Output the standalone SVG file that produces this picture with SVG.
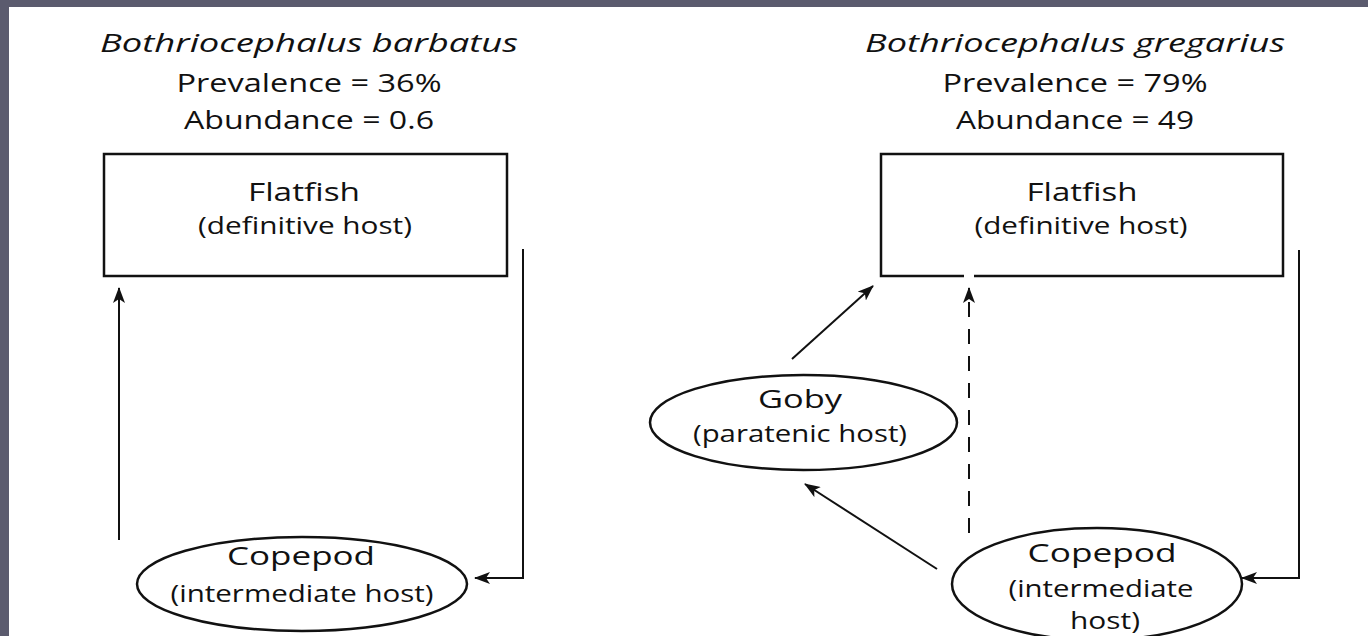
<svg xmlns="http://www.w3.org/2000/svg" width="1368" height="636" viewBox="0 0 1368 636">
<style>
.t{font-family:"Open Sans","Noto Sans",sans-serif;fill:#111;text-anchor:middle}
.it{font-style:italic;font-size:26px}
.h{font-size:25px}
.m{font-size:26px}
.s{font-size:23px}
.n{fill:none;stroke:#111;stroke-width:2.5}
.c{fill:none;stroke:#111;stroke-width:2}
</style>
<defs>
<marker id="ah" viewBox="0 0 16 12" refX="15" refY="6" markerWidth="16" markerHeight="12" markerUnits="userSpaceOnUse" orient="auto">
<path d="M0,0 L16,6 L0,12 L4,6 Z" fill="#111"/>
</marker>
</defs>
<rect x="0" y="0" width="1368" height="636" fill="#5b5b6e"/>
<rect x="9" y="7" width="1359" height="629" fill="#fff"/>
<g id="titles">
<text class="t it" x="309" y="52" textLength="418" lengthAdjust="spacingAndGlyphs">Bothriocephalus barbatus</text>
<text class="t m" x="309" y="92" textLength="265" lengthAdjust="spacingAndGlyphs">Prevalence = 36%</text>
<text class="t m" x="309" y="129" textLength="250" lengthAdjust="spacingAndGlyphs">Abundance = 0.6</text>
<text class="t it" x="1075" y="52" textLength="420" lengthAdjust="spacingAndGlyphs">Bothriocephalus gregarius</text>
<text class="t m" x="1075" y="92" textLength="265" lengthAdjust="spacingAndGlyphs">Prevalence = 79%</text>
<text class="t m" x="1075" y="129" textLength="238" lengthAdjust="spacingAndGlyphs">Abundance = 49</text>
</g>
<g id="flatfish-left">
<rect class="n" x="104" y="154" width="403" height="122"/>
<text class="t h" x="304" y="201" textLength="112" lengthAdjust="spacingAndGlyphs">Flatfish</text>
<text class="t s" x="305" y="234" textLength="214" lengthAdjust="spacingAndGlyphs">(definitive host)</text>
</g>
<g id="copepod-left">
<ellipse class="n" cx="302" cy="584" rx="165" ry="47"/>
<text class="t h" x="301" y="565" textLength="148" lengthAdjust="spacingAndGlyphs">Copepod</text>
<text class="t s" x="302" y="602" textLength="263" lengthAdjust="spacingAndGlyphs">(intermediate host)</text>
</g>
<g id="flatfish-right">
<path class="n" d="M964,276 H881 V154 H1283 V276 H974"/>
<text class="t h" x="1082" y="201" textLength="111" lengthAdjust="spacingAndGlyphs">Flatfish</text>
<text class="t s" x="1081" y="234" textLength="213" lengthAdjust="spacingAndGlyphs">(definitive host)</text>
</g>
<g id="goby">
<ellipse class="n" cx="803.5" cy="422.5" rx="153.5" ry="47.5"/>
<text class="t h" x="800" y="408" textLength="84" lengthAdjust="spacingAndGlyphs">Goby</text>
<text class="t s" x="800" y="442" textLength="214" lengthAdjust="spacingAndGlyphs">(paratenic host)</text>
</g>
<g id="copepod-right">
<ellipse class="n" cx="1097" cy="584" rx="145" ry="56"/>
<text class="t h" x="1102" y="562" textLength="149" lengthAdjust="spacingAndGlyphs">Copepod</text>
<text class="t s" x="1101" y="597" textLength="185" lengthAdjust="spacingAndGlyphs">(intermediate</text>
<text class="t s" x="1105" y="629" textLength="70" lengthAdjust="spacingAndGlyphs">host)</text>
</g>
<g id="connectors">
<path class="c" d="M119,540 V288" marker-end="url(#ah)"/>
<path class="c" d="M523,249 V578 H475" marker-end="url(#ah)"/>
<path class="c" d="M1299,250 V578 H1242" marker-end="url(#ah)"/>
<path class="c" d="M969,533 V288" stroke-dasharray="15 12" marker-end="url(#ah)"/>
<path class="c" d="M792,359 L873,286" marker-end="url(#ah)"/>
<path class="c" d="M937,569 L805,484" marker-end="url(#ah)"/>
</g>
</svg>
